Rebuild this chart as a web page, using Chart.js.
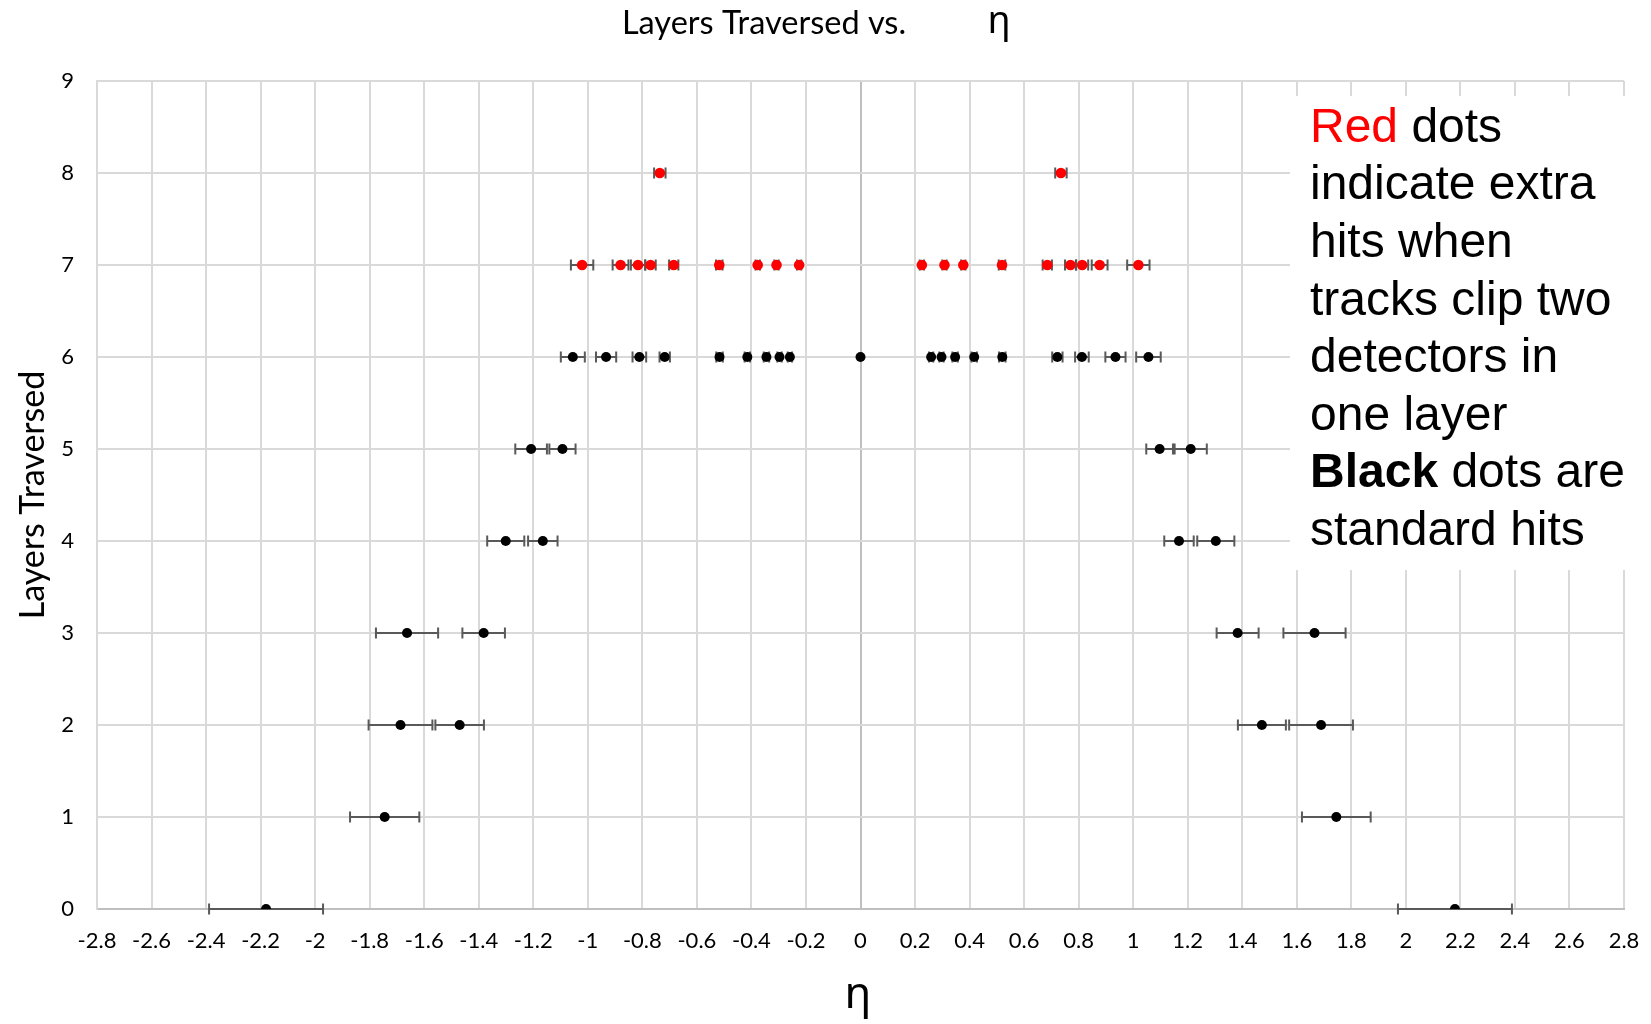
<!DOCTYPE html>
<html>
<head>
<meta charset="utf-8">
<script src="https://cdn.jsdelivr.net/npm/chart.js@4/dist/chart.umd.min.js"></script>
<style>
  html, body { margin: 0; padding: 0; background: #fff; }
  canvas { display: block; }
</style>
</head>
<body>
<canvas id="graph" width="1651" height="1024"></canvas>
<script>
// Standard hits (black): eta, layers traversed, eta error
const blackEta = [-2.18, 2.18, -1.745, 1.745,
    -1.687, -1.47, 1.472, 1.689,
    -1.663, -1.382, 1.383, 1.665,
    -1.301, -1.165, 1.168, 1.303,
    -1.208, -1.093, 1.097, 1.211,
    -1.055, -0.933, -0.811, -0.718, -0.517, -0.415, -0.345, -0.297, -0.259, 0,
    0.259, 0.297, 0.347, 0.417, 0.52, 0.722, 0.812, 0.935, 1.056];
const blackLayers = [0, 0, 1, 1,
    2, 2, 2, 2,
    3, 3, 3, 3,
    4, 4, 4, 4,
    5, 5, 5, 5,
    6, 6, 6, 6, 6, 6, 6, 6, 6, 6,
    6, 6, 6, 6, 6, 6, 6, 6, 6];
const blackErr = [0.209, 0.209, 0.127, 0.126,
    0.117, 0.089, 0.088, 0.117,
    0.114, 0.078, 0.077, 0.114,
    0.068, 0.054, 0.054, 0.068,
    0.058, 0.048, 0.049, 0.059,
    0.044, 0.037, 0.025, 0.019, 0.012, 0.01, 0.01, 0.008, 0.008, 0,
    0.008, 0.008, 0.01, 0.01, 0.012, 0.019, 0.025, 0.037, 0.045];

// Extra hits (red)
const redEta = [-0.736, 0.735,
    -1.021, -0.88, -0.816, -0.77, -0.685, -0.518, -0.377, -0.308, -0.225,
    0.225, 0.308, 0.377, 0.519, 0.685, 0.77, 0.813, 0.877, 1.019];
const redLayers = [8, 8,
    7, 7, 7, 7, 7, 7, 7, 7, 7,
    7, 7, 7, 7, 7, 7, 7, 7, 7];
const redErr = [0.021, 0.021,
    0.041, 0.029, 0.026, 0.019, 0.017, 0.012, 0.008, 0.008, 0.008,
    0.008, 0.008, 0.008, 0.012, 0.017, 0.02, 0.022, 0.029, 0.041];

const noteLines = ['Red dots', 'indicate extra', 'hits when', 'tracks clip two',
    'detectors in', 'one layer', 'Black dots are', 'standard hits'];

const toPoints = (xs, ys, errs) => xs.map((v, i) => ({ x: v, y: ys[i], err: errs[i] }));

// horizontal error bars, drawn under the dots
const errorBars = {
    id: 'errorBars',
    beforeDatasetsDraw(chart) {
        const { ctx, scales: { x, y } } = chart;
        ctx.save();
        ctx.strokeStyle = '#595959';
        ctx.lineWidth = 2;
        chart.data.datasets.forEach(ds => {
            ds.data.forEach(p => {
                if (!p.err) return;
                const x0 = x.getPixelForValue(p.x - p.err);
                const x1 = x.getPixelForValue(p.x + p.err);
                const py = y.getPixelForValue(p.y);
                ctx.beginPath();
                ctx.moveTo(x0, py); ctx.lineTo(x1, py);
                ctx.moveTo(x0, py - 5.5); ctx.lineTo(x0, py + 5.5);
                ctx.moveTo(x1, py - 5.5); ctx.lineTo(x1, py + 5.5);
                ctx.stroke();
            });
        });
        ctx.restore();
    }
};

// titles and the note box
const labels = {
    id: 'labels',
    afterDraw(chart) {
        const ctx = chart.ctx;
        ctx.save();
        ctx.fillStyle = '#000';
        ctx.textAlign = 'center';
        ctx.textBaseline = 'alphabetic';
        ctx.font = '32.5px Lato';
        ctx.fillText('Layers Traversed vs.', 764, 34);
        ctx.font = '38px "Noto Sans"';
        ctx.fillText('η', 999, 33);

        ctx.font = '44px "Noto Sans"';
        ctx.fillText('η', 858, 1008);

        ctx.save();
        ctx.translate(44, 495);
        ctx.rotate(-Math.PI / 2);
        ctx.font = '34px Lato';
        ctx.fillText('Layers Traversed', 0, 0);
        ctx.restore();

        ctx.fillStyle = '#fff';
        ctx.fillRect(1290, 96, 361, 474);

        ctx.textAlign = 'left';
        const left = 1310;
        const size = 48;
        noteLines.forEach((line, i) => {
            const by = 141.7 + i * 57.6;
            if (i === 0) {
                ctx.font = size + 'px "Liberation Sans"';
                ctx.fillStyle = '#ff0000';
                ctx.fillText('Red', left, by);
                const w = ctx.measureText('Red ').width;
                ctx.fillStyle = '#000';
                ctx.fillText('dots', left + w, by);
            } else if (i === 6) {
                ctx.font = 'bold ' + size + 'px "Liberation Sans"';
                ctx.fillStyle = '#000';
                ctx.fillText('Black', left, by);
                const w = ctx.measureText('Black').width;
                ctx.font = size + 'px "Liberation Sans"';
                ctx.fillText(' dots are', left + w, by);
            } else {
                ctx.font = size + 'px "Liberation Sans"';
                ctx.fillStyle = '#000';
                ctx.fillText(line, left, by);
            }
        });
        ctx.restore();
    }
};

const gridColor = c => (c.tick && c.tick.value === 0) ? '#bfbfbf' : '#d9d9d9';
const fmt = v => Number(Number(v).toFixed(1)).toString();

const ctx = document.getElementById('graph').getContext('2d');
const chart = new Chart(ctx, {
    type: 'scatter',
    data: {
        datasets: [{
            label: 'Standard hits',
            data: toPoints(blackEta, blackLayers, blackErr),
            backgroundColor: '#000000',
            borderWidth: 0,
            pointRadius: 5
        }, {
            label: 'Extra hits',
            data: toPoints(redEta, redLayers, redErr),
            backgroundColor: '#ff0000',
            borderWidth: 0,
            pointRadius: 5.3
        }]
    },
    options: {
        responsive: false,
        animation: false,
        events: [],
        layout: { padding: { left: 0, right: 27, top: 81, bottom: 0 } },
        scales: {
            x: {
                type: 'linear',
                min: -2.8,
                max: 2.8,
                afterFit: s => { s.height = 115; s.paddingLeft = 0; s.paddingRight = 0; },
                ticks: {
                    stepSize: 0.2,
                    padding: 19,
                    color: '#000',
                    font: { family: 'Lato', size: 22 },
                    maxRotation: 0,
                    autoSkip: false,
                    callback: fmt
                },
                grid: { color: gridColor, lineWidth: 2, drawTicks: false },
                border: { color: '#bfbfbf', width: 2 }
            },
            y: {
                type: 'linear',
                min: 0,
                max: 9,
                afterFit: s => { s.width = 97; s.paddingTop = 0; s.paddingBottom = 0; },
                ticks: {
                    stepSize: 1,
                    padding: 23,
                    color: '#000',
                    font: { family: 'Lato', size: 22 },
                    callback: fmt
                },
                grid: { color: gridColor, lineWidth: 2, drawTicks: false },
                border: { color: '#d9d9d9', width: 2 }
            }
        },
        plugins: {
            legend: { display: false },
            tooltip: { enabled: false },
            title: { display: false }
        }
    },
    plugins: [errorBars, labels]
});
</script>
</body>
</html>
